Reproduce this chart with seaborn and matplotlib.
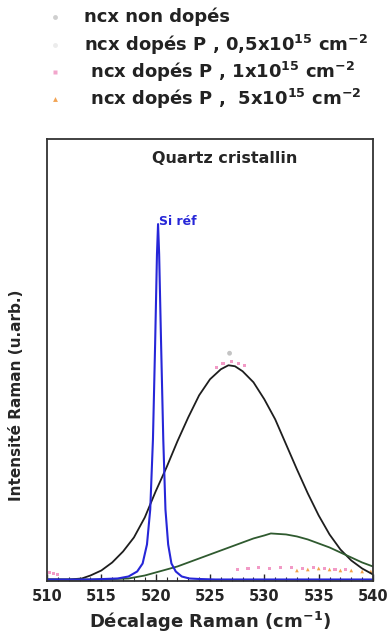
import numpy as np
import pandas as pd
import matplotlib
matplotlib.use("Agg")
import matplotlib.pyplot as plt
import seaborn as sns
from matplotlib.lines import Line2D
from matplotlib.ticker import MultipleLocator

# ==========================================
# DATA (arb. units)
# ==========================================

# Si reference peak
si_x = [510.0, 514.0, 516.5, 517.5, 518.3, 518.8, 519.2, 519.5, 519.75, 519.95,
        520.12, 520.22, 520.32, 520.5, 520.7, 520.9, 521.15, 521.45, 521.85,
        522.4, 523.1, 524.0, 525.5, 530.0, 540.0]
si_y = [0.0, 0.0, 1, 3, 8, 16, 35, 70, 140, 235,
        325, 355, 325, 235, 140, 70, 35, 16, 8,
        3, 1, 0.5, 0.0, 0.0, 0.0]

# fitted component, large (black)
blk_x = [510, 512, 513.2, 514, 515, 516, 517, 518, 519, 520, 521, 522, 523,
         524, 525, 526, 526.7, 527.3, 528, 529, 530, 531, 532, 533, 534, 535,
         536, 537, 538, 539, 540]
blk_y = [0, 0, 1, 4, 9, 17, 28, 42, 62, 88, 112, 138, 162,
         184, 200, 210, 214, 213, 208, 197, 180, 160, 135, 110, 86, 64,
         45, 30, 19, 11, 5]

# fitted component, small (green)
grn_x = [510, 515, 517.5, 519, 520, 521, 522, 523, 524, 525, 526, 527, 528,
         529, 530, 530.6, 532, 533, 534, 535, 536, 537, 538, 539, 540]
grn_y = [0, 0, 1, 4, 7, 10, 13, 17, 21, 25, 29, 33, 37,
         41, 44, 46, 45, 43, 40, 36, 32, 27, 22, 17, 13]

# measured points
pts_non_dope_x = [526.8]
pts_non_dope_y = [226]
pts_p1_x = [510.2, 510.6, 511.0, 525.6, 526.2, 527.0, 527.6, 528.2,
            527.5, 528.5, 529.5, 530.5, 531.5, 532.5, 533.5, 534.5, 535.5, 536.5, 537.5]
pts_p1_y = [7, 6, 5, 212, 216, 218, 216, 214,
            10, 11, 12, 11, 12, 12, 11, 12, 11, 10, 10]
pts_p5_x = [533.0, 534.0, 535.0, 536.0, 537.0, 538.0, 539.0, 539.8]
pts_p5_y = [9, 10, 11, 10, 9, 9, 8, 8]

legend_labels = [
    "ncx non dopés",
    r"ncx dopés P , 0,5x10$^{15}$ cm$^{-2}$",
    r" ncx dopés P , 1x10$^{15}$ cm$^{-2}$",
    r" ncx dopés P ,  5x10$^{15}$ cm$^{-2}$",
]
legend_colors = ["#cfcfcf", "#ececec", "#f2a6cc", "#f2a455"]
legend_markers = ["o", "o", "s", "^"]

# ==========================================
# STYLE
# ==========================================

sns.set_style("white")
plt.rcParams["font.family"] = ["DejaVu Sans"]
plt.rcParams["font.weight"] = "bold"
plt.rcParams["mathtext.default"] = "bf"

fig = plt.figure(figsize=(3.87, 6.44), dpi=100)
ax = fig.add_axes([47 / 387, 63 / 644, 326 / 387, 442 / 644])

# ==========================================
# CURVES
# ==========================================

sns.lineplot(x=blk_x, y=blk_y, ax=ax, color="#1e1e1e", lw=1.3)
sns.lineplot(x=grn_x, y=grn_y, ax=ax, color="#2f5a2f", lw=1.3)
sns.lineplot(x=si_x, y=si_y, ax=ax, color="#2626d8", lw=1.5)

sns.scatterplot(x=pts_non_dope_x, y=pts_non_dope_y, ax=ax, color="#c4c4c4",
                s=12, edgecolor="none")
sns.scatterplot(x=pts_p1_x, y=pts_p1_y, ax=ax, color="#f29ac6",
                s=5, edgecolor="none", marker="s")
sns.scatterplot(x=pts_p5_x, y=pts_p5_y, ax=ax, color="#f0a24a",
                s=7, edgecolor="none", marker="^")

# ==========================================
# AXES
# ==========================================

ax.set_xlim(510, 540)
ax.set_ylim(-1.5, 440)
ax.set_yticks([])
ax.xaxis.set_major_locator(MultipleLocator(5))
ax.xaxis.set_minor_locator(MultipleLocator(1))
ax.tick_params(axis="x", which="major", direction="in", length=5, width=1,
               labelsize=10.5, pad=6, bottom=True)
ax.tick_params(axis="x", which="minor", direction="in", length=3, width=0.8,
               bottom=True)
for lab in ax.get_xticklabels():
    lab.set_fontweight("bold")
for sp in ax.spines.values():
    sp.set_color("#333333")
    sp.set_linewidth(1.3)

ax.set_xlabel(r"Décalage Raman (cm$^{-1}$)", fontsize=13, fontweight="bold",
              labelpad=4)
ax.set_ylabel("Intensité Raman (u.arb.)", fontsize=11, fontweight="bold")
ax.yaxis.set_label_coords(-0.072, 0.42)

ax.text(0.545, 0.955, "Quartz cristallin", transform=ax.transAxes,
        ha="center", va="center", fontsize=11.5, fontweight="bold")
ax.text(520.35, 358, "Si réf", color="#2626d8", fontsize=9, fontweight="bold",
        ha="left", va="center")

# ==========================================
# LEGEND (rows placed by hand above the axes)
# ==========================================

row_y = [1 - 17 / 644, 1 - 45 / 644, 1 - 72 / 644, 1 - 99 / 644]
for i, label in enumerate(legend_labels):
    fig.text(84 / 387, row_y[i], label, fontsize=13, fontweight="bold",
             va="center", ha="left", color="#222222")
    fig.add_artist(Line2D([55 / 387], [row_y[i]], transform=fig.transFigure,
                          ls="none", marker=legend_markers[i], ms=3.5,
                          color=legend_colors[i], mec="none"))

fig.savefig("out.png", dpi=100)
